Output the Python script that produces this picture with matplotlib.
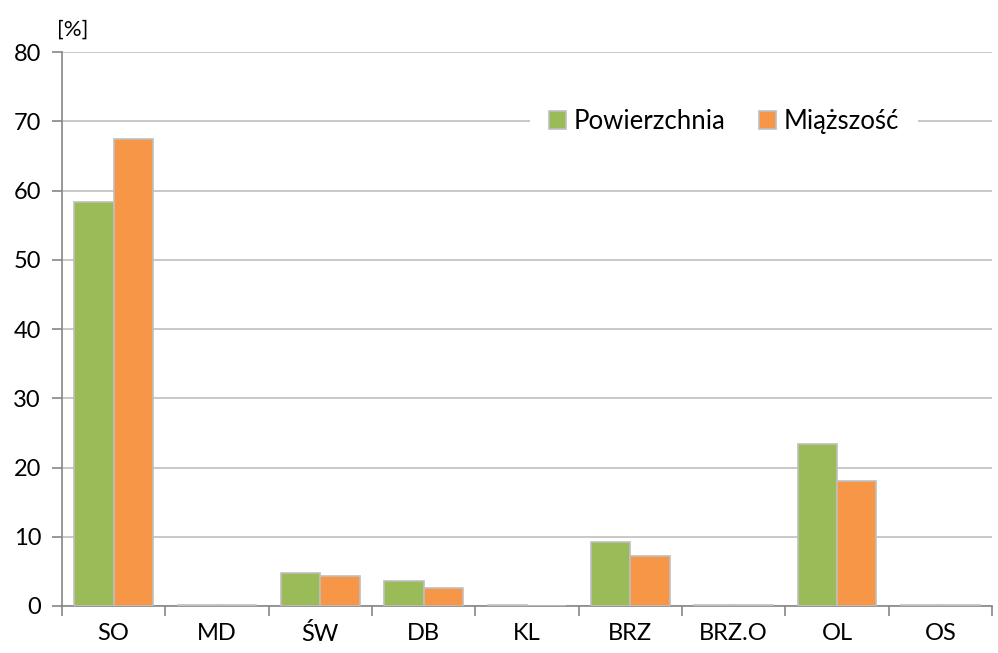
import numpy as np
import matplotlib.pyplot as plt

plt.rcParams['font.family'] = ['Lato', 'DejaVu Sans']

categories = ['SO', 'MD', 'ŚW', 'DB', 'KL', 'BRZ', 'BRZ.O', 'OL', 'OS']
powierzchnia = [58.4, 0.1, 4.7, 3.6, 0.1, 9.2, 0.2, 23.4, 0.1]
miazszosc = [67.4, 0.1, 4.4, 2.6, 0.0, 7.2, 0.1, 18.0, 0.1]

fig = plt.figure(figsize=(9.98, 6.53), dpi=100)
ax = fig.add_axes([0.062, 0.072, 0.932, 0.848])

x = np.arange(len(categories))
w = 0.38
ax.bar(x - w/2, powierzchnia, w, color='#9bbb59', edgecolor='#bfbfbf', linewidth=1.2,
       label='Powierzchnia', zorder=3)
ax.bar(x + w/2, miazszosc, w, color='#f79646', edgecolor='#bfbfbf', linewidth=1.2,
       label='Miąższość', zorder=3)

ax.set_xlim(-0.5, len(categories) - 0.5)
ax.set_ylim(0, 80)
ax.set_yticks(range(0, 81, 10))
ax.yaxis.grid(True, color='#bfbfbf', linewidth=1.2, zorder=0)

ax.set_xticks(x)
ax.set_xticklabels(categories)
ax.set_xticks(np.arange(-0.5, len(categories)), minor=True)
ax.tick_params(axis='x', which='major', length=0, pad=12, labelsize=17)
ax.tick_params(axis='x', which='minor', length=7, color='#868686', width=1.2)
ax.tick_params(axis='y', length=7, color='#868686', width=1.2, labelsize=17, pad=8)

for s in ['top', 'right']:
    ax.spines[s].set_visible(False)
for s in ['left', 'bottom']:
    ax.spines[s].set_color('#868686')
    ax.spines[s].set_linewidth(1.2)

fig.text(0.057, 0.945, '[%]', fontsize=16)

leg = ax.legend(loc='center', bbox_to_anchor=(0.712, 0.875), ncol=2, frameon=True,
                fontsize=18.5, handlelength=0.65, handleheight=0.65, handletextpad=0.3,
                columnspacing=1.3, borderpad=0.15, borderaxespad=0, fancybox=False)
leg.get_frame().set_edgecolor('none')
leg.get_frame().set_facecolor('white')
leg.get_frame().set_alpha(1)
leg.get_frame().set_boxstyle('square', pad=0.6)

fig.savefig('out.png', dpi=100)
